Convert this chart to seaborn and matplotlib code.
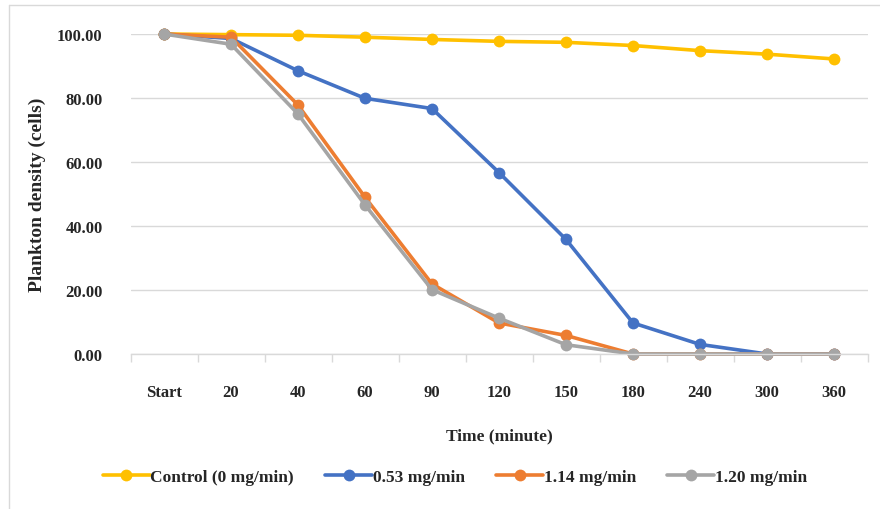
import matplotlib
matplotlib.use("Agg")
import matplotlib.pyplot as plt
from matplotlib.lines import Line2D
from matplotlib.ticker import FixedLocator, FormatStrFormatter
import seaborn as sns
import pandas as pd

times = ["Start", "20", "40", "60", "90", "120", "150", "180", "240", "300", "360"]
control = [100.0, 99.8, 99.6, 99.0, 98.3, 97.7, 97.4, 96.4, 94.8, 93.7, 92.2]
dose_053 = [100.0, 98.6, 88.5, 79.9, 76.7, 56.7, 35.8, 9.7, 3.0, 0.0, 0.0]
dose_114 = [100.0, 99.0, 77.8, 49.0, 21.9, 9.7, 5.8, 0.0, 0.0, 0.0, 0.0]
dose_120 = [100.0, 96.8, 75.0, 46.6, 20.1, 11.2, 2.9, 0.0, 0.0, 0.0, 0.0]
series_names = ["Control (0 mg/min)", "0.53 mg/min", "1.14 mg/min", "1.20 mg/min"]
colors = ["#FFC000", "#4472C4", "#ED7D31", "#A5A5A5"]
y_ticks = [0, 20, 40, 60, 80, 100]

rows = []
for name, vals in zip(series_names, [control, dose_053, dose_114, dose_120]):
    for t, v in zip(times, vals):
        rows.append({"Time": t, "Density": v, "Series": name})
df = pd.DataFrame(rows)

sns.set_theme(style="white")
plt.rcParams["font.family"] = ["Liberation Serif", "DejaVu Serif"]
plt.rcParams["font.weight"] = "bold"

fig = plt.figure(figsize=(8.8, 5.1), dpi=100)
ax = fig.add_axes([130.5 / 880, 1 - 355 / 510, 737 / 880, 320 / 510])

sns.lineplot(data=df, x="Time", y="Density", hue="Series", hue_order=series_names,
             palette=colors, marker="o", markersize=8.5, markeredgewidth=0,
             linewidth=2.6, sort=False, ax=ax, clip_on=False, legend=False)

ax.set_xlim(-0.5, len(times) - 0.5)
ax.set_ylim(0, 100)
ax.yaxis.set_major_locator(FixedLocator(y_ticks))
ax.yaxis.set_major_formatter(FormatStrFormatter("%.2f"))
ax.grid(axis="y", color="#D9D9D9", linewidth=1.0)
ax.set_axisbelow(True)
for s in ["top", "right", "left"]:
    ax.spines[s].set_visible(False)
ax.spines["bottom"].set_color("#D9D9D9")
ax.spines["bottom"].set_linewidth(1.0)

ax.set_xticks(range(len(times)))
ax.set_xticklabels(times)
ax.set_xticks([i - 0.5 for i in range(len(times) + 1)], minor=True)
ax.tick_params(axis="x", which="major", length=0, pad=21.5, labelsize=12)
ax.tick_params(axis="x", which="minor", length=6, color="#D9D9D9", width=1.0, direction="out", bottom=True)
ax.tick_params(axis="y", length=0, pad=20, labelsize=12)
for lab in ax.get_xticklabels() + ax.get_yticklabels():
    lab.set_fontweight("bold")

ax.set_xlabel("Time (minute)", fontsize=12.5, fontweight="bold", labelpad=20)
ax.set_ylabel("Plankton density (cells)", fontsize=14, fontweight="bold", labelpad=8)

handles = [Line2D([0], [0], color=c, linewidth=2.6, marker="o", markersize=8.5, markeredgewidth=0)
           for c in colors]
fig.legend(handles, series_names, loc="center", bbox_to_anchor=(455 / 880, 1 - 478 / 510),
           ncol=4, frameon=False, handlelength=2.7, columnspacing=1.8, handletextpad=0.05,
           prop={"family": "Liberation Serif", "weight": "bold", "size": 12.5})

fig.add_artist(Line2D([9 / 880, 1], [1 - 6 / 510, 1 - 6 / 510], color="#D9D9D9", linewidth=1.0,
                      transform=fig.transFigure))
fig.add_artist(Line2D([9 / 880, 9 / 880], [0, 1 - 6 / 510], color="#D9D9D9", linewidth=1.0,
                      transform=fig.transFigure))

fig.savefig("out.png", dpi=100)
